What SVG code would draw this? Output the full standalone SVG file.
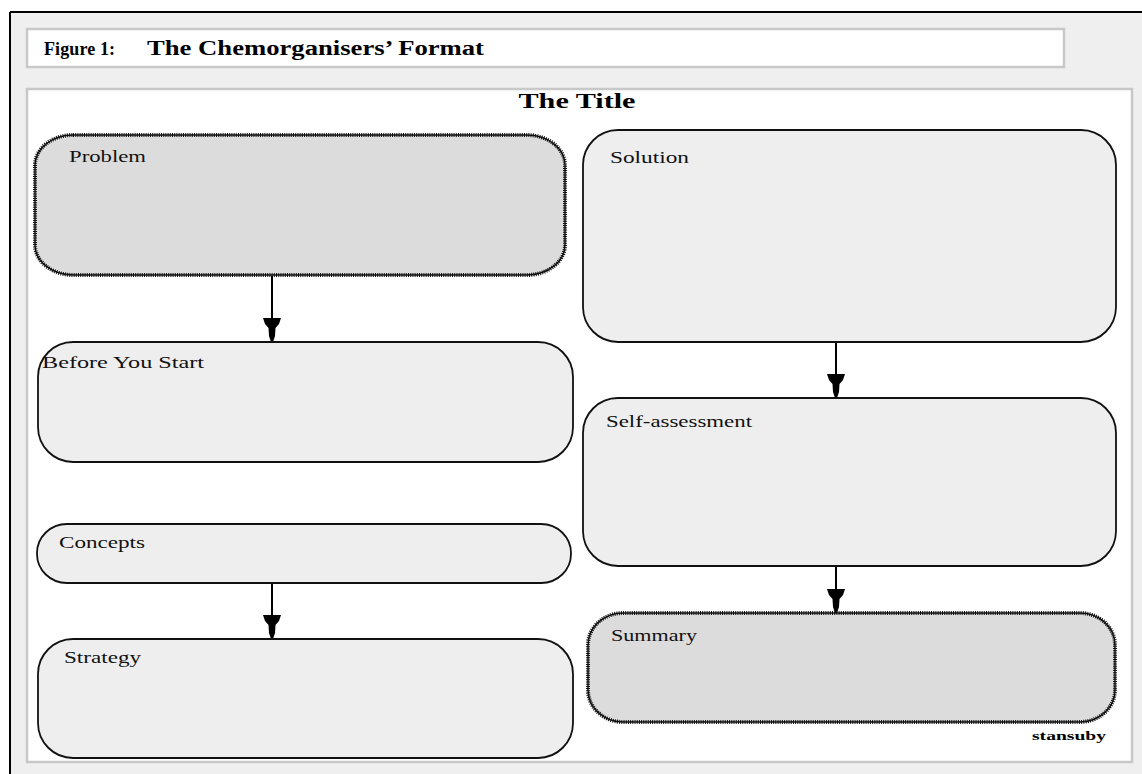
<svg xmlns="http://www.w3.org/2000/svg" width="1142" height="774" viewBox="0 0 1142 774">
<style>
.hdr{font-family:"Liberation Serif","Times New Roman",serif;font-weight:bold;font-size:20px;fill:#000}
.lbl{font-family:"Liberation Serif","Times New Roman",serif;font-size:16px;fill:#111}
.box{fill:#eeeeee;stroke:#111;stroke-width:1.8}
.dbox{fill:#dcdcdc;stroke:#111;stroke-width:1.5}
.jag{fill:none;stroke:#111;stroke-width:4;stroke-dasharray:1 1.2}
.conn{stroke:#000;stroke-width:2;fill:none}
</style>
<defs>
<marker id="ah" viewBox="0 0 24 20" markerWidth="24" markerHeight="20" refX="24" refY="10" orient="auto" markerUnits="userSpaceOnUse">
<path d="M0,1 L0,19 L6,17 L10,13.5 L18,13 L24,11 L24,9 L18,7 L10,6.5 L6,3 Z" fill="#000"/>
</marker>
</defs>
<rect x="0" y="0" width="1142" height="774" fill="#ffffff"/>
<rect x="10" y="12" width="1132" height="762" fill="#efefef"/>
<line x1="10" y1="12" x2="1142" y2="12" stroke="#000" stroke-width="2"/>
<line x1="10" y1="12" x2="10" y2="774" stroke="#000" stroke-width="2"/>
<g id="header">
<rect x="27" y="29" width="1037" height="38" fill="#ffffff" stroke="#c8c8c8" stroke-width="2.5"/>
<text class="hdr" x="44" y="55" style="font-size:18px" textLength="71" lengthAdjust="spacing">Figure 1:</text>
<text class="hdr" x="147" y="55" textLength="337" lengthAdjust="spacingAndGlyphs">The Chemorganisers’ Format</text>
</g>
<g id="content">
<rect x="27" y="89" width="1105" height="673" fill="#ffffff" stroke="#c8c8c8" stroke-width="2.5"/>
<text class="hdr" x="577" y="108" text-anchor="middle" textLength="117" lengthAdjust="spacingAndGlyphs">The Title</text>
</g>
<g id="connectors">
<line class="conn" x1="272" y1="276" x2="272" y2="342" marker-end="url(#ah)"/>
<line class="conn" x1="272" y1="583" x2="272" y2="639" marker-end="url(#ah)"/>
<line class="conn" x1="836" y1="342" x2="836" y2="398" marker-end="url(#ah)"/>
<line class="conn" x1="836" y1="566" x2="836" y2="613" marker-end="url(#ah)"/>
</g>
<g id="problem">
<rect class="dbox" x="35" y="135" width="530" height="140" rx="38" ry="30"/>
<rect class="jag" x="35" y="135" width="530" height="140" rx="38" ry="30"/>
<text class="lbl" x="69" y="162" textLength="77" lengthAdjust="spacingAndGlyphs">Problem</text>
</g>
<g id="before-you-start">
<rect class="box" x="38" y="342" width="535" height="120" rx="35" ry="35"/>
<text class="lbl" x="42" y="368" textLength="162" lengthAdjust="spacingAndGlyphs">Before You Start</text>
</g>
<g id="concepts">
<rect class="box" x="37" y="524" width="534" height="59" rx="30" ry="29"/>
<text class="lbl" x="59" y="548" textLength="86" lengthAdjust="spacingAndGlyphs">Concepts</text>
</g>
<g id="strategy">
<rect class="box" x="38" y="639" width="535" height="119" rx="35" ry="35"/>
<text class="lbl" x="64" y="663" textLength="77" lengthAdjust="spacingAndGlyphs">Strategy</text>
</g>
<g id="solution">
<rect class="box" x="583" y="130" width="533" height="212" rx="35" ry="35"/>
<text class="lbl" x="610" y="163" textLength="79" lengthAdjust="spacingAndGlyphs">Solution</text>
</g>
<g id="self-assessment">
<rect class="box" x="583" y="398" width="533" height="168" rx="35" ry="35"/>
<text class="lbl" x="606" y="427" textLength="146" lengthAdjust="spacingAndGlyphs">Self-assessment</text>
</g>
<g id="summary">
<rect class="dbox" x="588" y="613" width="527" height="109" rx="35" ry="32"/>
<rect class="jag" x="588" y="613" width="527" height="109" rx="35" ry="32"/>
<text class="lbl" x="611" y="641" textLength="86" lengthAdjust="spacingAndGlyphs">Summary</text>
</g>
<text x="1032" y="740" font-family="Liberation Serif, serif" font-size="12" font-weight="bold" textLength="74" lengthAdjust="spacingAndGlyphs">stansuby</text>
</svg>
